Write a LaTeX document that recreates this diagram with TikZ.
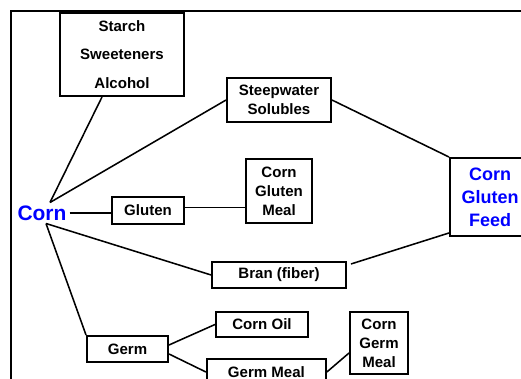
\documentclass[tikz,border=0pt]{standalone}
\usepackage{fontspec}
\setmainfont{Liberation Sans}
\usepackage{xcolor}
\usetikzlibrary{positioning}

\begin{document}
\begin{tikzpicture}[
    product/.style={rectangle, draw, line width=1.4pt, align=center, inner sep=1pt, font=\bfseries\fontsize{10.7}{13.5}\selectfont},
    feed/.style={product, text=blue, font=\bfseries\fontsize{12.8}{16.4}\selectfont},
    link/.style={line width=1.1pt}
]

% Page and frame
\clip (0,0) rectangle (13.025,9.475);
\draw[line width=1.3pt] (0.275,9.2) rectangle (13.6,-0.6);

% Source
\node[text=blue, inner sep=2pt, font=\bfseries\fontsize{14.9}{16}\selectfont] (corn) at (1.05,4.15) {Corn};

% Product boxes
\node[product, minimum width=3.1cm, minimum height=2.075cm] (starch) at (3.05,8.1125) {
    Starch\\[7pt]
    Sweeteners\\[7pt]
    Alcohol
};

\node[product, minimum width=1.65cm, minimum height=1.6cm] (cgm) at (6.975,4.7) {
    Corn\\
    Gluten\\
    Meal
};

\node[product, minimum width=2.6cm, minimum height=1.1cm, above=0.875cm of cgm] (steep) {
    Steepwater\\
    Solubles
};

\node[product, minimum width=3.35cm, minimum height=0.65cm, below=0.925cm of cgm] (bran) {Bran (fiber)};

\node[product, minimum width=1.8cm, minimum height=0.675cm] (gluten) at (3.7,4.2125) {Gluten};

\node[product, minimum width=2.025cm, minimum height=0.65cm] (germ) at (3.1875,0.75) {Germ};

\node[product, minimum width=2.3cm, minimum height=0.625cm] (oil) at (6.55,1.3625) {Corn Oil};

\node[product, minimum width=2.975cm, minimum height=0.65cm] (germmeal) at (6.66,0.175) {Germ Meal};

\node[product, minimum width=1.45cm, minimum height=1.55cm] (cgermmeal) at (9.475,0.9) {
    Corn\\
    Germ\\
    Meal
};

\node[feed, minimum width=2cm, minimum height=1.95cm] (cgf) at (12.25,4.55) {
    Corn\\
    Gluten\\
    Feed
};

% Links
\draw[link] ([xshift=0.2cm]corn.north) -- ([xshift=-0.5cm]starch.south);
\draw[link] ([xshift=0.2cm]corn.north) -- (steep.west);
\draw[link] (corn.east) -- (corn.east -| gluten.west);
\draw[link] ([yshift=0.075cm]gluten.east) -- ([yshift=0.075cm]gluten.east -| cgm.west);
\draw[link] ([xshift=0.1cm]corn.south) -- (bran.west);
\draw[link] ([xshift=0.1cm]corn.south) -- (germ.north west);
\draw[link] (steep.east) -- (cgf.north west);
\draw[link] ([xshift=0.1cm,yshift=-0.075cm]bran.north east) -- ([yshift=0.1cm]cgf.south west);
\draw[link] ([yshift=0.1cm]germ.east) -- (oil.west);
\draw[link] ([yshift=-0.125cm]germ.east) -- (germmeal.west);
\draw[link] (germmeal.east) -- ([yshift=-0.25cm]cgermmeal.west);

\end{tikzpicture}
\end{document}
